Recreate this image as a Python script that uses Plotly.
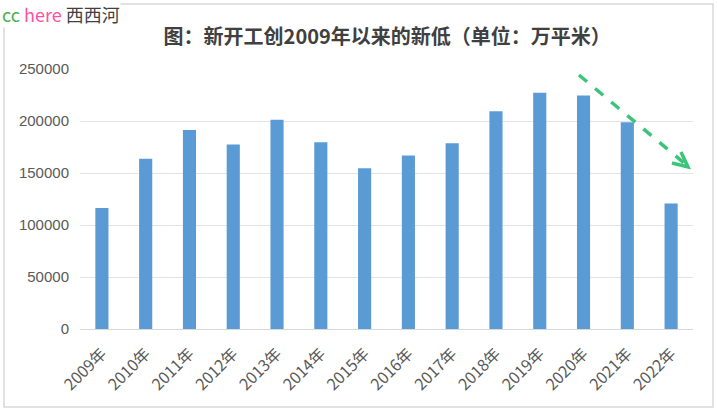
import plotly.graph_objects as go

years = ["2009年", "2010年", "2011年", "2012年", "2013年", "2014年", "2015年",
         "2016年", "2017年", "2018年", "2019年", "2020年", "2021年", "2022年"]
starts = [116422, 163647, 191237, 177334, 201208, 179592, 154454,
          166928, 178654, 209342, 227154, 224433, 198895, 120587]
y_ticks = [0, 50000, 100000, 150000, 200000, 250000]

title_text = "图：新开工创2009年以来的新低（单位：万平米）"

fig = go.Figure()
fig.add_trace(go.Bar(
    x=years, y=starts,
    marker=dict(color="#5b9bd5", line=dict(width=0)),
    width=0.3,
    hoverinfo="x+y",
))

W, H = 717, 412
ml, mr, mt, mb = 80, 24, 69, 83

def pxx(v):
    return (v - ml) / (W - ml - mr)

def pxy(v):
    return (H - mb - v) / (H - mt - mb)

fig.update_layout(
    width=W, height=H,
    margin=dict(l=ml, r=mr, t=mt, b=mb),
    paper_bgcolor="white",
    plot_bgcolor="white",
    showlegend=False,
    title=dict(
        text=title_text,
        x=0.54, xanchor="center",
        y=1 - 37 / H, yanchor="middle",
        font=dict(family="Noto Sans CJK SC", size=20, color="#404040", weight="bold"),
    ),
    xaxis=dict(
        type="category",
        tickangle=-45,
        tickfont=dict(family="Noto Sans CJK SC", size=16, color="#595959"),
        showgrid=False,
        showline=True, linecolor="#d9d9d9", linewidth=1,
        ticks="",
        ticklabelstandoff=8,
        fixedrange=True,
    ),
    yaxis=dict(
        range=[0, 250000],
        tickvals=y_ticks,
        ticktext=[str(v) for v in y_ticks],
        tickfont=dict(family="Liberation Sans", size=15, color="#595959"),
        showgrid=True, gridcolor="#e3e3e3", gridwidth=1,
        zeroline=False,
        showline=False,
        ticks="",
        ticklabelstandoff=10,
        fixedrange=True,
    ),
)

# outer chart frame
fig.add_shape(type="rect", xref="paper", yref="paper",
              x0=pxx(4), x1=pxx(713), y0=pxy(407), y1=pxy(4),
              line=dict(color="#d9d9d9", width=1.5), fillcolor="rgba(0,0,0,0)",
              layer="below")

# trend arrow (dashed green)
fig.add_shape(type="line", xref="paper", yref="paper",
              x0=pxx(579), y0=pxy(75), x1=pxx(684), y1=pxy(163),
              line=dict(color="#3cc47a", width=3.5, dash="dash"))
fig.add_shape(type="path", xref="paper", yref="paper",
              path=f"M {pxx(681)} {pxy(152)} L {pxx(688)} {pxy(167)} L {pxx(672)} {pxy(163)}",
              line=dict(color="#3cc47a", width=3.5), fillcolor="rgba(0,0,0,0)")

# watermark
fig.add_annotation(xref="paper", yref="paper",
                   x=pxx(1), y=pxy(0), xanchor="left", yanchor="top",
                   text="<span style='color:#4caf50'>cc</span> <span style='color:#ff4fa3'>here</span> <span style='color:#404040'>西西河</span>",
                   showarrow=False, bgcolor="white",
                   font=dict(family="Noto Sans CJK SC", size=18), borderpad=0)

fig.write_html("out.html")
